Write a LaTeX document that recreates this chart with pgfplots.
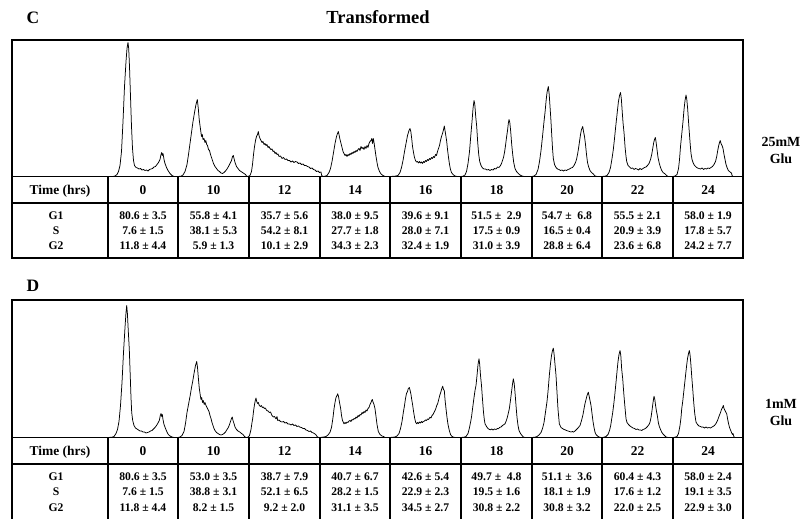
\documentclass[border=0pt]{standalone}
\usepackage{fontspec}
\setmainfont{Liberation Serif}
\usepackage{pgfplots}
\pgfplotsset{compat=1.18}
\pgfplotsset{tr/.style={black, line width=0.75bp, line join=round, mark=none, solid}}
\begin{document}
\begin{tikzpicture}[x=1bp,y=1bp,
  hdr/.style={anchor=base, inner sep=0pt, font=\fontsize{13.5}{15}\selectfont\bfseries},
  val/.style={anchor=base, inner sep=0pt, font=\fontsize{11.7}{13}\selectfont\bfseries},
  big/.style={anchor=base, inner sep=0pt, font=\fontsize{17.5}{19}\selectfont\bfseries},
  ttl/.style={anchor=base, inner sep=0pt, font=\fontsize{18.5}{20}\selectfont\bfseries},
  side/.style={anchor=base, inner sep=0pt, font=\fontsize{14}{16}\selectfont\bfseries}]
\useasboundingbox (0,0) rectangle (803,519);

% ================= Panel C =================
\begin{axis}[at={(12bp,342.5bp)}, anchor=south west, width=731bp, height=136.5bp,
  scale only axis, xmin=12, xmax=743, ymin=0, ymax=136.5, axis lines=none, clip=false,
  cycle list={{black,mark=none}}]
\addplot[tr] coordinates {(108,0) (113,0) (115,0.5) (117,2) (118.5,5) (120,11) (121.5,25) (123,55) (124.5,90) (126,115) (127,128) (128,134) (128.7,128) (129.5,110) (130.5,80) (131.5,50) (132.5,28) (133.5,16) (134.5,11) (136,9) (137.5,8.5) (139,7.5) (140.5,8) (142,6.5) (143.5,7) (145,6) (146.5,6.5) (148,5.5) (149.5,7) (151,7.5) (152.5,8) (154,9.5) (155.5,10) (157,12) (158.5,14) (160,17) (161,22) (161.7,24) (162.3,21) (163,23) (164,17) (165,13) (166.5,9) (168,6) (170,3) (172,1) (174,0) (178,0)};
\addplot[tr] coordinates {(178,0) (181,0.3) (183,1.5) (185,5) (187,12) (188.5,22) (190,33) (191.5,44) (193,55) (194.5,64) (196,72) (197.3,77) (198.3,68) (199.2,57) (200,51) (200.8,45) (201.5,40) (202.3,42) (203,37) (204,38) (205,34) (205.8,36) (206.7,32) (207.5,31) (208.5,27) (209.5,26) (210.5,22) (211.5,19) (212.5,16) (213.5,13) (215,10) (216.5,8) (218,6) (219.5,5) (221,3.5) (222.5,3) (224,4) (225.5,5.5) (227,7.5) (228.5,10) (230,13) (231.5,16) (232.5,20) (233.3,21) (234,18) (235,14) (236.5,10) (238,8) (239.5,6) (241,5) (242.5,4) (244,3) (245.5,2) (246.5,0.5) (248,0)};
\addplot[tr] coordinates {(248,0) (250,1) (251.5,5) (252.5,12) (253.5,22) (254.5,30) (255.5,36) (256.5,40) (257.5,42) (258.3,45) (259,41) (260,38) (261,36) (262,34) (263,35) (264,32) (265,33) (266,31) (267,32) (268,29) (269,30) (270,28) (271,27) (272,27.5) (273,25) (274,25.5) (275,23) (276,24) (277,22) (278,22.5) (279,20) (280.5,20.5) (282,18) (283.5,19) (285,17) (286.5,17.5) (288,16) (289.5,16) (291,14.5) (292.5,15.5) (294,14) (295.5,15) (297,14.5) (298.5,13) (300,13.5) (301.5,12) (303,12.5) (304.5,11) (306,11) (307.5,10) (309,9.5) (310.5,8) (312,8.5) (313.5,7) (315,6.5) (316.5,5) (318,5.5) (319.5,4) (321,4.5) (321.7,1) (323,0)};
\addplot[tr] coordinates {(323,0) (325,0.3) (327,1) (329,4) (330.5,8) (332,15) (333.5,24) (335,33) (336.5,40) (337.5,43) (338.3,45) (339,42) (340,37) (341,33) (342,29) (343,25) (344,23) (345,21) (346,22) (347,20) (348,22) (349,21) (350,23) (351,22) (352,24) (353,23) (354,25) (355,24) (356,26) (357,25) (358,27) (359,28) (360,26) (361,30) (362,28) (363,29) (364,27) (365,30) (366,28) (367,31) (368,29) (369,33) (370,35) (371,36) (371.8,38) (372.5,33) (373.3,38) (374,34) (375,27) (376,20) (377,14) (378,9) (379.5,5) (381,2.5) (383,1) (385,0) (390,0)};
\addplot[tr] coordinates {(390,0) (395,0.3) (398,1) (400,4) (401.5,9) (403,16) (404.5,25) (406,33) (407.5,41) (409,46) (410,48) (410.8,45) (411.7,38) (412.5,30) (413.5,24) (414.5,19) (415.5,16) (416.5,14.5) (417.5,15) (418.5,13.5) (419.5,15) (420.5,13.5) (421.5,14.5) (422.5,13) (423.5,15) (424.5,14) (425.5,16) (426.5,15) (427.5,17) (428.5,16) (429.5,18) (430.5,17) (431.5,19) (432.5,18) (433.5,20) (434.5,19) (435.5,22) (436.5,21) (437.5,25) (438.5,28) (439.5,31) (440.5,36) (441.5,40) (442.5,43) (443.3,46) (444.3,50.5) (445,46) (445.8,41) (446.7,35) (447.5,27) (448.5,19) (449.5,12) (450.5,7) (451.5,4) (453,2) (455,0.5) (457,0) (461,0)};
\addplot[tr] coordinates {(461,0) (463,0.3) (465,1.5) (466.5,5) (468,13) (469.5,25) (470.7,40) (472,55) (473,68) (474,76) (474.8,72) (475.7,60) (476.7,50) (477.7,34) (478.7,22) (479.7,15) (481,11) (482.5,8.5) (484,7.5) (485.5,7.5) (487,6.5) (488.5,7) (490,6) (491.5,7) (493,6.5) (494.5,8) (496,7.5) (497.5,9.5) (499,9) (500.5,11) (501.5,13) (502.5,16) (503.5,19) (504.5,24) (505.5,31) (506.5,39) (507.5,46) (508.3,53) (509,57) (509.8,54) (510.7,45) (511.7,32) (512.7,22) (513.7,14) (515,8) (516.5,5) (518.3,3) (520,1.5) (522,0.5) (524,0) (532,0)};
\addplot[tr] coordinates {(532,0) (534,0.5) (536,2) (538,7) (539.5,15) (541,26) (542.5,40) (544,55) (545,64) (546,75) (547,84) (548.3,90) (549.2,82) (550,70) (550.8,58) (551.7,42) (552.5,28) (553.3,18) (554.5,12) (556,9) (557.5,7.5) (559,7) (560.5,6) (562,6.5) (563.5,5.5) (565,6.5) (566.5,6) (568,7) (569.5,7.5) (571,8.5) (572.5,9) (574,11) (575.5,14) (576.5,17) (577.5,22) (578.5,28) (579.5,35) (580.5,42) (581.5,47) (582.7,50) (583.5,45) (584.5,40) (585.5,32) (586.5,22) (587.5,14) (588.5,10) (590,6) (591.5,4) (593.3,2.5) (595,0.5) (597,0) (602,0)};
\addplot[tr] coordinates {(602,0) (605,0.3) (607,1) (609,4) (610.5,9) (612,18) (613.3,27) (614.5,38) (615.7,50) (617,62) (618.3,74) (619.5,81) (620.5,84) (621.3,78) (622.2,65) (623,54) (624,44) (625,30) (626,20) (626.7,15) (628,11) (629.5,9.5) (631,8) (632.5,8.5) (634,7) (635.5,8) (637,7.5) (638.5,6.5) (640,8) (641.5,7) (643,8) (644.5,9) (646,9.5) (647.5,11) (649,13) (650.5,17) (651.7,22) (652.7,28) (653.7,34) (654.5,37) (655.3,39) (656,35) (657,27) (658,19) (659.3,13) (660.5,9) (661.7,6) (663,4) (664.5,3) (666,1.5) (668,0) (673,0)};
\addplot[tr] coordinates {(673,0) (675,0.5) (677,2) (678.5,8) (679.5,17) (680.5,30) (681.7,42) (683,55) (684,67) (685,76) (686,81.5) (686.8,77) (687.7,67) (688.5,55) (689.3,44) (690.2,32) (691,23) (692,17) (693,14) (694.5,11) (696,9.5) (697.5,8.5) (699,8) (700.5,7.5) (702,8.5) (703.5,7) (705,8) (706.5,7.5) (708,8.5) (709.5,8) (711,9) (712.5,10) (714,12) (715.5,15) (716.7,20) (717.7,26) (718.7,31) (719.5,34) (720.2,36) (721,33) (722,31) (723,28) (724,22) (725,17) (726,12) (727,9) (728.3,6) (729.5,5) (730.5,4) (731.5,3.5) (732,1) (733,0) (743,0)};
\end{axis}

% ================= Panel D =================
\begin{axis}[at={(12bp,81.5bp)}, anchor=south west, width=731bp, height=137.5bp,
  scale only axis, xmin=12, xmax=743, ymin=0, ymax=137.5, axis lines=none, clip=false,
  cycle list={{black,mark=none}}]
\addplot[tr] coordinates {(108,0) (112,0.3) (114,1) (116,4) (117.5,8) (119,16) (120.5,32) (122,55) (123.5,85) (125,110) (126,125) (126.7,132) (127.4,124) (128.2,108) (129.3,88) (130.3,60) (131,40) (131.7,25) (132.7,17) (134,12) (135.5,9.5) (137,8.5) (138.5,7.5) (140,6.5) (141.5,6.5) (143,5.5) (144.5,5.5) (146,4.5) (147.5,5) (149,5.5) (150.5,6.5) (152,7) (153.5,8.5) (155,10) (156.5,12) (158,14.5) (159.3,17) (160.3,22) (161,24) (161.7,21) (162.3,23) (163,18) (164,13) (165.5,9) (167,5.5) (168.3,3) (170,1.5) (172,0.5) (174,0) (178,0)};
\addplot[tr] coordinates {(178,0) (180,0.5) (182,2) (184,6) (185.5,14) (187,25) (188.5,33) (190,41) (191.5,50) (192.7,56) (194,64) (195.5,72) (196.7,76) (197.5,70) (198.3,60) (199.3,49) (200.3,42) (201,38) (201.7,40) (202.5,35) (203.3,37) (204.2,33) (205,35) (206,32) (207,30) (208,28) (209,26) (210,22) (211,19) (212,15) (213,12) (214,9) (215,7) (216.5,5) (218,4) (219.5,3) (221,2.5) (222.5,3) (224,4) (225.5,5.5) (227,8) (228.3,10) (229.5,13) (230.5,16) (231.5,19) (232.3,20.5) (233,17) (234,14) (235,10.5) (236.5,8) (238,6.5) (240,5.3) (241.5,4) (243,3) (244.5,1) (246,0)};
\addplot[tr] coordinates {(246,0) (248,0.3) (249.5,2) (251,8) (252,15) (252.7,19) (253.5,26) (254.5,33) (255.3,37) (256,39.5) (256.7,36) (257.5,34) (258.3,35) (259.3,32) (260.3,31) (261.3,32) (262.3,30) (263.3,30.5) (264.3,29) (265.3,29.5) (266.7,27) (268,26.5) (269.3,25) (270.5,25.5) (272,22) (273.3,20.5) (274.5,21) (276,18.5) (277,21) (277.7,17) (279,17.5) (280.5,16) (282,15.5) (283.5,16) (285,14.5) (286.5,15) (288,13.5) (289.5,13.5) (291,12.5) (292.5,13.5) (294,12) (295.5,12.5) (297,11) (298.5,11.5) (300,10.3) (301.5,10) (303,9) (304.5,9) (306,7.5) (307.5,7) (309,6) (310.5,6.5) (312,5) (313.5,4.5) (315,3.5) (316,2.7) (317,1) (318.5,0) (320,0)};
\addplot[tr] coordinates {(320,0) (322,0.3) (324,0.5) (326,1) (328,2.5) (330,5.3) (331.5,10) (333,20) (334,28.7) (335,35) (336,40) (337,42) (337.7,43.7) (338.5,41) (339.5,35) (340.7,28.7) (341.5,22) (342.5,17) (344,13.7) (345,15) (346,14) (347,15.5) (348,15) (349,16.5) (350,17) (351,16) (352,18) (353,17.5) (354,19) (355,18.5) (356,20.5) (357,19.5) (358,22) (359,21) (360,23) (361,22.5) (362,25) (363,24) (364,26) (365,25) (366,27.5) (367,26.5) (368,29) (369,30) (370,33) (371,35) (371.7,37) (372.3,38) (373,35.5) (374,33) (375,28.7) (376,21) (377,13) (378.3,6) (380,3) (382,1.5) (383.5,1) (385,0) (390,0)};
\addplot[tr] coordinates {(390,0) (393,0.3) (395,0.5) (397,1.5) (399,4) (400.5,9) (402,16) (403.3,25) (404.5,32) (405.5,39) (406.5,44) (407.5,46) (408.3,49) (409.3,50) (410,47.5) (411,43) (411.7,38) (412.7,32) (413.7,25) (414.7,19) (415.7,15) (416.7,13.7) (417.5,15) (418.5,14) (419.5,15.5) (420.5,14.5) (421.5,16) (422.5,15) (423.3,16) (424.5,16.5) (425.5,17.5) (426.5,17) (427.5,18.5) (428.5,18) (430,20.3) (431,19.5) (432,22) (433,23) (434,25) (435,27) (436,29.5) (436.7,32) (437.7,34) (438.7,38) (439.7,42) (440.7,45) (441.5,48) (442.7,51.3) (443.5,48) (444.3,47) (445,38) (446,28.7) (447,20) (448,13) (449.3,7) (450.5,3) (451.7,1.3) (453,0.5) (455,0) (461,0)};
\addplot[tr] coordinates {(461,0) (464,0.3) (466,1) (468,4) (469.5,10) (470.7,16) (471.7,22) (472.7,30) (474,40) (475,47) (476,52) (477,62) (478,73) (479,78.7) (479.7,73) (480.5,62) (481.5,52) (482.5,38) (483.5,25) (484.3,18) (485,13.7) (486.5,11) (488,9) (489.5,8) (490.5,7.7) (491.7,8.5) (493,7.5) (494.5,8.5) (496,8) (497.5,9) (498.3,8.7) (499.5,10) (501,10.5) (502.5,12) (504,13) (505,13.7) (506,16) (507,19) (508,23) (509.3,28.7) (510.3,36) (511.3,44) (512.3,52) (513.3,58.7) (514.2,54) (515,45) (516,32) (517,20) (518,12) (519,7) (520.5,4) (522,2) (523.3,0.5) (525,0) (532,0)};
\addplot[tr] coordinates {(532,0) (535,0.3) (537,1) (539,2.5) (541,5) (542.5,9) (544,15) (545,22) (546,29) (547,36) (548,46) (549.3,62) (550.5,74) (551.5,82) (552.5,87) (553.3,89.3) (554,84) (555,73) (556,62) (557,45) (558,28) (559.3,13.7) (561,10) (562.5,9) (564,8) (565,7.7) (566.5,7) (568,6.5) (569.5,6) (571,5.5) (572.5,6) (573.3,5.3) (575,6.5) (576.5,8) (578,9.5) (580,12) (581.5,17) (583,23) (584,28.7) (585,34) (586,38) (587,42) (588.3,45.3) (589,42) (590,37) (591,32) (592,24) (593,16) (594,10) (595,5.3) (596,3) (597.5,1.5) (599,0.5) (601,0) (602,0)};
\addplot[tr] coordinates {(602,0) (604,0.3) (606,1) (608,3) (609.5,7) (610.7,12) (611.7,18.7) (612.7,25) (613.7,33) (614.7,42) (616,55.3) (617,66) (618,76) (619,83) (620,87) (620.8,82) (621.7,68) (622.7,58.7) (623.7,45) (624.7,33) (626,18.7) (627,15) (628.5,13) (630,11.5) (631.7,10.3) (633,9.5) (634.5,9) (636,8) (637.5,8.5) (639,7.5) (640.5,7.5) (641.7,7) (643,8) (644.5,8.5) (646,9.5) (647.5,11) (649,13) (650,15.3) (651,20) (652,27) (653,35) (654,41.3) (654.8,38) (655.7,31) (656.5,26) (657.3,22) (658.3,15) (659.3,11) (660.5,8) (661.7,5.3) (663,3.5) (664.5,2) (666,0.5) (668,0) (673,0)};
\addplot[tr] coordinates {(673,0) (675,0.3) (677,1) (678.5,4) (680,12) (681,20) (681.7,28.7) (682.7,36) (684,48) (685.3,60) (686.5,71) (687.5,79) (688.5,84) (689.3,87) (690,83) (690.8,74) (691.8,60) (692.7,48.7) (693.7,35) (694.7,24) (696,15.3) (697.5,13) (699,11.5) (700.5,11) (701.7,10.3) (703,10.5) (704.5,9.5) (706,10.5) (707.5,9.5) (709,10) (710.5,9.5) (711.7,10.3) (713,11) (714.5,12) (716,14) (717.5,17) (719.3,22) (720.5,25) (721.5,28) (722.5,30) (723.3,32) (724,29) (725,27) (726,25) (726.7,23.7) (727.5,19) (728.5,14) (729.5,10) (730.7,7) (731.5,5) (732.5,3) (733,4) (734,0.5) (735,0) (743,0)};
\end{axis}

% ================= Frames and tables =================
\begin{scope}[line width=1.4bp, black]
% Panel C
\draw (12,479) rectangle (743,261);
\draw (12,342.5) -- (743,342.5);
\draw (12,316) -- (743,316);
\foreach \x in {108,178,249,320,390,461,532,602,673} \draw (\x,342.5) -- (\x,261);
% Panel D
\draw (12,0) -- (12,219) -- (743,219) -- (743,0);
\draw (12,81.5) -- (743,81.5);
\draw (12,55) -- (743,55);
\foreach \x in {108,178,249,320,390,461,532,602,673} \draw (\x,81.5) -- (\x,0);
\end{scope}

% Titles
\node[big] at (33,495.7) {C};
\node[ttl] at (378,495.7) {Transformed};
\node[big] at (33,227.3) {D};
\node[side] at (781,372.3) {25mM};
\node[side] at (781,355.7) {Glu};
\node[side] at (781,110) {1mM};
\node[side] at (781,93.3) {Glu};

% Header rows
\node[hdr] at (60,324.7) {Time (hrs)};
\node[hdr] at (60,63.7) {Time (hrs)};
\foreach \x/\t in {143/0,213.5/10,284.5/12,355/14,425.5/16,496.5/18,567/20,637.5/22,708/24}{
  \node[hdr] at (\x,324.7) {\t};
  \node[hdr] at (\x,63.7) {\t};
}
% Row labels
\foreach \y/\t in {299/G1,284/S,269/G2,38.5/G1,23/S,7.5/G2}
  \node[val] at (56,\y) {\t};

% Panel C values
\foreach \x/\a/\b/\c in {
  143/80.6 ± 3.5/7.6 ± 1.5/11.8 ± 4.4,
  213.5/55.8 ± 4.1/38.1 ± 5.3/5.9 ± 1.3,
  284.5/35.7 ± 5.6/54.2 ± 8.1/10.1 ± 2.9,
  355/38.0 ± 9.5/27.7 ± 1.8/34.3 ± 2.3,
  425.5/39.6 ± 9.1/28.0 ± 7.1/32.4 ± 1.9,
  496.5/51.5 ±~~2.9/17.5 ± 0.9/31.0 ± 3.9,
  567/54.7 ±~~6.8/16.5 ± 0.4/28.8 ± 6.4,
  637.5/55.5 ± 2.1/20.9 ± 3.9/23.6 ± 6.8,
  708/58.0 ± 1.9/17.8 ± 5.7/24.2 ± 7.7}{
  \node[val] at (\x,299) {\a};
  \node[val] at (\x,284) {\b};
  \node[val] at (\x,269) {\c};
}
% Panel D values
\foreach \x/\a/\b/\c in {
  143/80.6 ± 3.5/7.6 ± 1.5/11.8 ± 4.4,
  213.5/53.0 ± 3.5/38.8 ± 3.1/8.2 ± 1.5,
  284.5/38.7 ± 7.9/52.1 ± 6.5/9.2 ± 2.0,
  355/40.7 ± 6.7/28.2 ± 1.5/31.1 ± 3.5,
  425.5/42.6 ± 5.4/22.9 ± 2.3/34.5 ± 2.7,
  496.5/49.7 ±~~4.8/19.5 ± 1.6/30.8 ± 2.2,
  567/51.1 ±~~3.6/18.1 ± 1.9/30.8 ± 3.2,
  637.5/60.4 ± 4.3/17.6 ± 1.2/22.0 ± 2.5,
  708/58.0 ± 2.4/19.1 ± 3.5/22.9 ± 3.0}{
  \node[val] at (\x,38.5) {\a};
  \node[val] at (\x,23) {\b};
  \node[val] at (\x,7.5) {\c};
}
\end{tikzpicture}
\end{document}
